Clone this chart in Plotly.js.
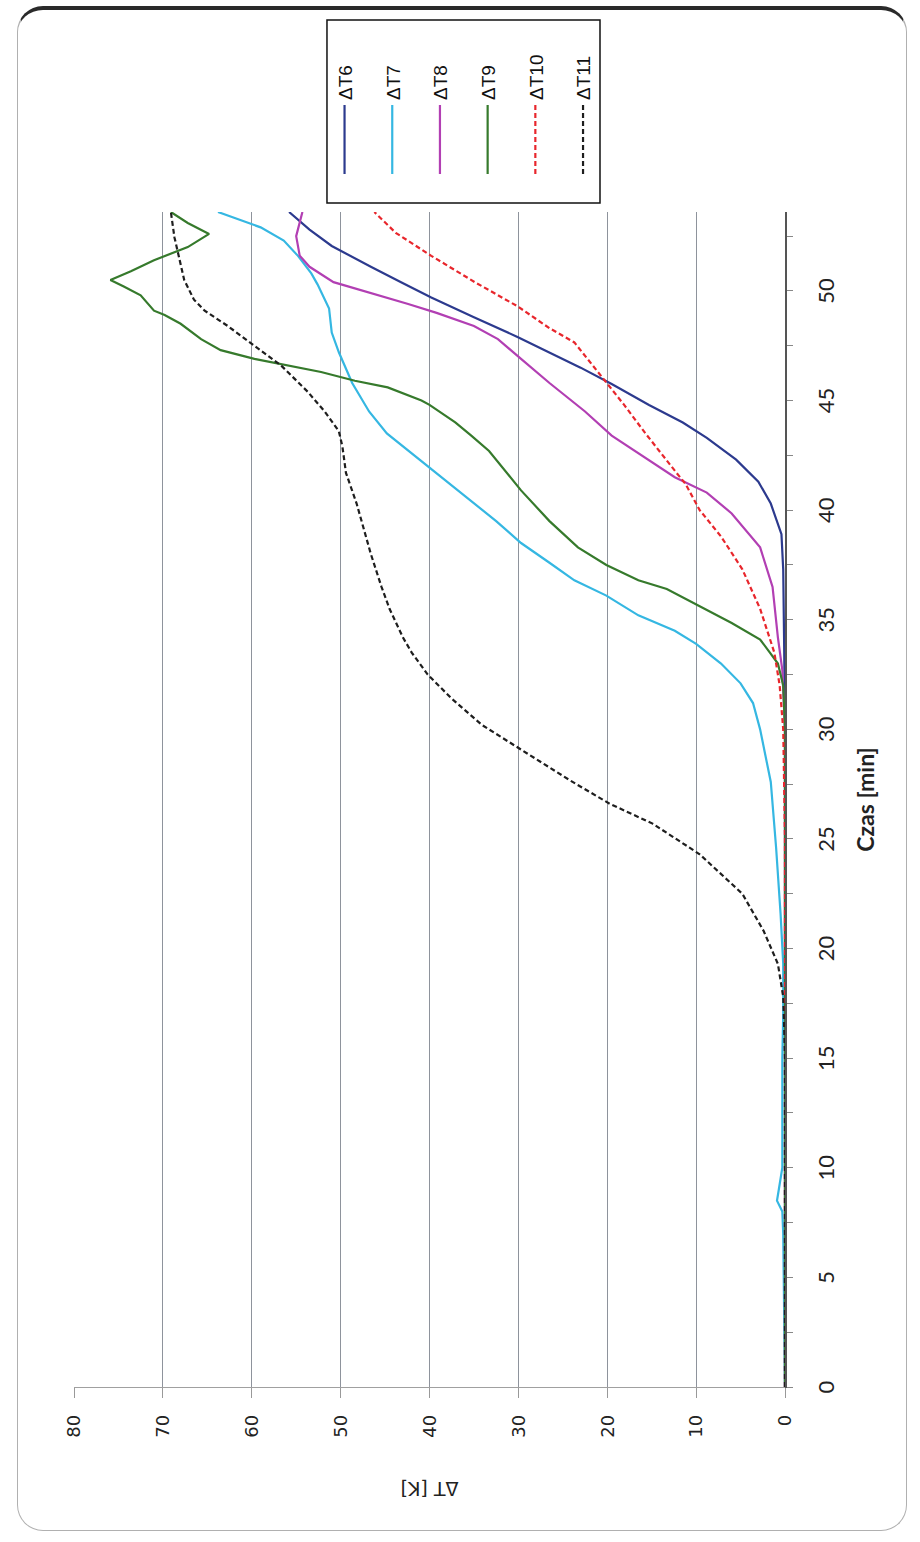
<!DOCTYPE html>
<html>
<head>
<meta charset="utf-8">
<script src="https://cdn.plot.ly/plotly-3.0.1.min.js"></script>
<style>
html, body { margin:0; padding:0; background:#fff; width:920px; height:1542px; overflow:hidden; }
#frame { position:absolute; left:17px; top:6px; width:890px; height:1525px; box-sizing:border-box;
  border:1.5px solid #b0b0b0; border-top:4px solid #2a2a2a; border-radius:26px; }
#chart { position:absolute; left:0; top:0; width:1542px; height:920px;
  transform-origin:0 0; transform:translate(0px,1542px) rotate(-90deg); }
</style>
</head>
<body>
<div id="frame"></div>
<div id="chart"></div>
<script>
// ---- data (time in min, ΔT in K) ----
const seriesNames = ['ΔT6', 'ΔT7', 'ΔT8', 'ΔT9', 'ΔT10', 'ΔT11'];

const t6  = [0, 5, 10, 15, 20, 25, 30, 34, 37.3, 38.9, 40.3, 41.3, 42.3, 43.3, 44.0, 44.8, 45.75, 46.5, 47.2, 47.9, 48.8, 49.7, 50.4, 51.1, 52.05, 52.8, 53.6];
const dT6 = [0, 0, 0, 0, 0, 0, 0, 0.1, 0.2, 0.4, 1.6, 3.0, 5.5, 8.8, 11.5, 15.3, 19.5, 23, 26.5, 30.1, 35, 39.8, 43.2, 46.6, 51, 53.5, 55.8];

const t7  = [0, 3, 5, 7, 8, 8.5, 9, 10, 12, 15, 17, 19.3, 21.6, 24.6, 27.6, 30.0, 31.2, 32.1, 33.0, 33.9, 34.5, 35.2, 36.1, 36.8, 37.6, 38.5, 39.5, 40.8, 41.8, 42.6, 43.5, 44.5, 45.8, 47.2, 48.1, 49.2, 50.3, 50.8, 51.6, 52.3, 52.9, 53.6];
const dT7 = [0, 0.1, 0.1, 0.2, 0.3, 0.9, 0.7, 0.3, 0.3, 0.3, 0.2, 0.2, 0.5, 1.0, 1.6, 2.8, 3.6, 5.0, 7.2, 10.0, 12.4, 16.5, 20.1, 23.7, 26.5, 29.7, 32.5, 36.5, 39.6, 42.0, 44.8, 46.8, 48.7, 50.2, 51.0, 51.3, 52.6, 53.3, 54.8, 56.4, 59.0, 63.8];

const t8  = [0, 5, 10, 15, 20, 25, 30, 32.7, 34.2, 36.5, 38.3, 39.85, 40.8, 41.5, 42.4, 43.4, 44.5, 45.8, 46.9, 47.8, 48.4, 49.0, 49.4, 49.9, 50.4, 51.1, 51.6, 52.5, 53.6];
const dT8 = [0, 0, 0, 0, 0, 0, 0, 0.3, 0.8, 1.4, 2.8, 6.0, 8.8, 12.4, 15.7, 19.5, 22.5, 26.5, 29.7, 32.3, 35, 39.2, 42.4, 46.5, 50.8, 53.5, 54.6, 55.0, 54.3];

const t9  = [0, 5, 10, 15, 20, 25, 30, 32.0, 33.0, 33.5, 34.1, 34.85, 35.6, 36.4, 36.8, 37.5, 38.3, 39.5, 40.9, 41.7, 42.7, 43.4, 44.0, 44.8, 45.0, 45.6, 45.9, 46.3, 46.6, 46.9, 47.3, 47.8, 48.5, 48.9, 49.1, 49.8, 50.2, 50.5, 50.9, 51.4, 52.0, 52.6, 53.1, 53.6];
const dT9 = [0, 0, 0, 0, 0, 0, 0, 0.2, 0.8, 1.7, 2.8, 6.0, 9.6, 13.3, 16.5, 20.1, 23.3, 26.5, 29.7, 31.3, 33.3, 35.3, 37.1, 40.0, 40.9, 44.7, 48.4, 52.2, 56.0, 59.7, 63.5, 65.7, 68.0, 69.8, 71.0, 72.5, 74.4, 75.9, 73.6, 71.0, 67.2, 64.8, 67.2, 69.1];

const t10  = [0, 5, 10, 15, 20, 25, 30, 32.0, 33.5, 35.5, 37.3, 38.8, 40.0, 41.2, 41.8, 43.5, 44.8, 45.8, 46.4, 47.0, 47.65, 48.3, 49.3, 50.4, 51.6, 52.65, 53.6];
const dT10 = [0, 0, 0, 0, 0, 0, 0.2, 0.6, 1.2, 2.8, 4.8, 7.2, 9.6, 11.2, 12.4, 15.7, 18.1, 20.1, 21.3, 22.4, 23.7, 26.5, 30.1, 34.9, 39.8, 43.8, 46.2];

const t11  = [0, 5, 10, 15, 16.5, 17.8, 19.3, 20.8, 22.5, 24.3, 25.7, 26.6, 27.65, 29.1, 30.2, 31.4, 32.5, 33.5, 34.2, 35.5, 36.5, 38.0, 40.3, 41.7, 42.9, 43.6, 44.5, 45.4, 46.6, 47.5, 48.4, 49.1, 49.6, 50.5, 51.5, 52.45, 53.6];
const dT11 = [0, 0, 0, 0, 0.1, 0.2, 0.8, 2.4, 4.8, 9.6, 14.9, 19.7, 24.1, 29.7, 34.1, 37.5, 40.2, 42.0, 43.0, 44.5, 45.4, 46.6, 48.2, 49.4, 49.8, 50.2, 51.8, 53.7, 56.7, 59.7, 62.7, 65.3, 66.5, 67.6, 68.2, 68.7, 69.1];

const timeTickVals = [0, 2.5, 5, 7.5, 10, 12.5, 15, 17.5, 20, 22.5, 25, 27.5, 30, 32.5, 35, 37.5, 40, 42.5, 45, 47.5, 50, 52.5];
const timeTickText = ['0', '', '5', '', '10', '', '15', '', '20', '', '25', '', '30', '', '35', '', '40', '', '45', '', '50', ''];
const dTTickVals = [0, 10, 20, 30, 40, 50, 60, 70, 80];

// ---- styles ----
const styles = [
  {color:'#2c3a8e', dash:'solid'},
  {color:'#35b7e2', dash:'solid'},
  {color:'#b23fb3', dash:'solid'},
  {color:'#367a2c', dash:'solid'},
  {color:'#e8262c', dash:'5px,3px'},
  {color:'#1e1e1e', dash:'5px,3px'}
];
const xs = [t6, t7, t8, t9, t10, t11];
const ys = [dT6, dT7, dT8, dT9, dT10, dT11];

const traces = seriesNames.map((n, i) => ({
  type:'scatter', mode:'lines', name:n, x:xs[i], y:ys[i],
  legendgroup:'g' + i,
  line:{color:styles[i].color, width:2.2, dash:styles[i].dash}
}));

const layout = {
  width:1542, height:920,
  margin:{l:155, r:212, t:74, b:135},
  paper_bgcolor:'rgba(0,0,0,0)', plot_bgcolor:'rgba(0,0,0,0)',
  showlegend:true,
  legend:{
    x:1.0281, y:0.646, xanchor:'left', yanchor:'top',
    bgcolor:'rgba(0,0,0,0)', borderwidth:0,
    font:{family:'Liberation Sans, Arial, sans-serif', size:19, color:'#111'},
    tracegroupgap:20, itemwidth:69
  },
  shapes:[{
    type:'rect', xref:'paper', yref:'paper',
    x0:1.0077, x1:1.1634, y0:0.2602, y1:0.6442,
    line:{color:'#111', width:1.5}, fillcolor:'rgba(255,255,255,0)', layer:'below'
  }],
  xaxis:{
    range:[0, 53.6], tickmode:'array', tickvals:timeTickVals, ticktext:timeTickText,
    ticks:'outside', ticklen:6, tickcolor:'#888', tickwidth:1,
    showline:true, linecolor:'#555', linewidth:1.5,
    showgrid:false, zeroline:false,
    tickfont:{family:'Lato, sans-serif', size:22, color:'#222'},
    ticklabelstandoff:15,
    title:{text:'Czas [min]', font:{family:'Lato, sans-serif', size:23, color:'#222', weight:700}, standoff:20}
  },
  yaxis:{
    range:[0, 80], tickmode:'array', tickvals:dTTickVals,
    ticks:'outside', ticklen:10, tickcolor:'#999', tickwidth:1,
    showline:true, linecolor:'#a0a0a0', linewidth:1.2,
    showgrid:true, gridcolor:'#8e939c', gridwidth:1.2, zeroline:false,
    tickfont:{family:'DejaVu Sans, Verdana, sans-serif', size:18, color:'#222'},
    ticklabelstandoff:13,
    title:{text:'ΔT [K]', font:{family:'DejaVu Sans, Verdana, sans-serif', size:19, color:'#222'}, standoff:38}
  }
};

Plotly.newPlot('chart', traces, layout, {staticPlot:true, displayModeBar:false});
</script>
</body>
</html>
